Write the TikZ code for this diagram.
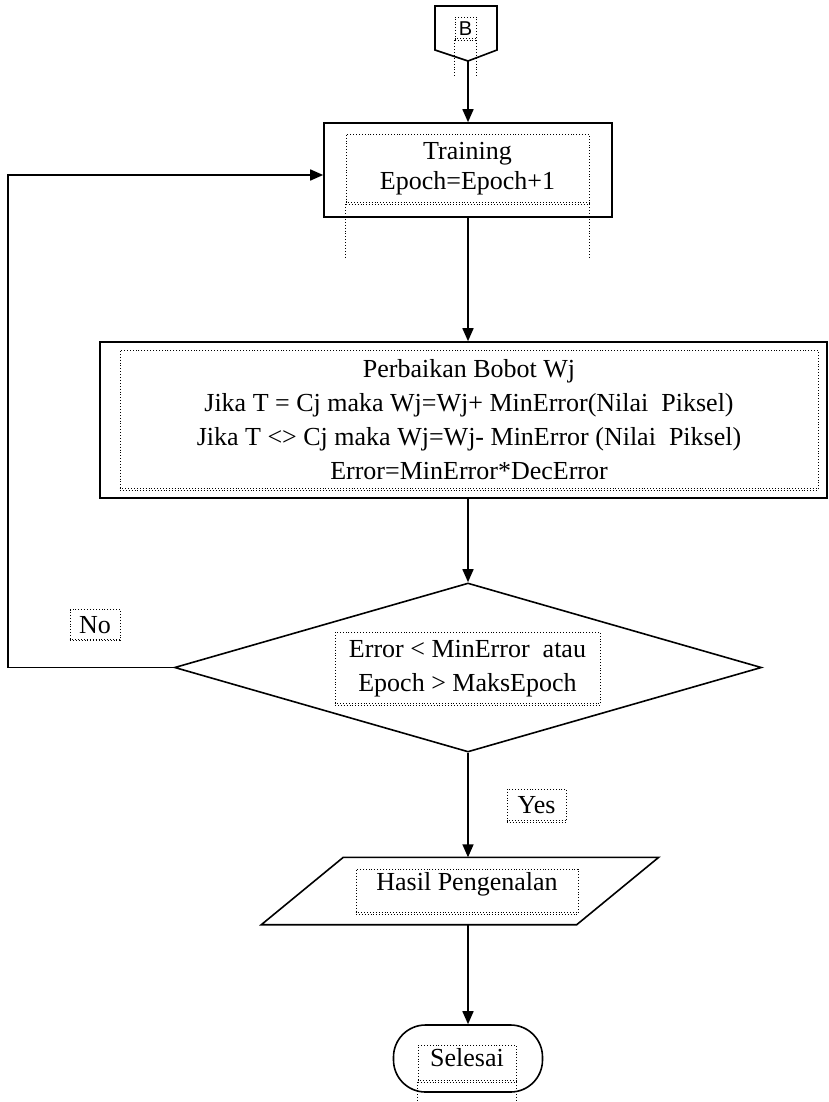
\documentclass[tikz,border=0pt]{standalone}
\usepackage{fontspec}
\setmainfont{Liberation Serif}
\newfontfamily\labelsans{Liberation Sans}
\usetikzlibrary{shapes.geometric,arrows.meta,calc}

\tikzset{
  frame/.style={draw, line width=1.6pt, line join=miter},
  dotbox/.style={draw, dotted, line width=0.9pt, inner sep=0pt, align=center},
  dotline/.style={dotted, line width=0.9pt},
  flow/.style={line width=1.6pt, -{Triangle[length=13pt,width=11pt]}},
  txt/.style={font=\fontsize{26}{34}\selectfont, align=center, inner sep=0pt},
}

\begin{document}
\begin{tikzpicture}[x=1pt,y=-1pt]
\useasboundingbox (0,0) rectangle (829,1102);

% off-page connector B
\draw[frame] (435,6) -- (497,6) -- (497,50) -- (468,61) -- (435,50) -- cycle;
\coordinate (bTip) at (468,61);
\node[dotbox, minimum width=21pt, minimum height=23pt,
      font=\labelsans\fontsize{20}{20}\selectfont] (bLbl) at (465.5,28.5) {B};
\draw[dotline] (bLbl.south west) -- ++(0,35);
\draw[dotline] (bLbl.south east) -- ++(0,35);

% training step
\node[frame, minimum width=288pt, minimum height=94pt] (train) at (468,170) {};
\node[dotbox, txt, font=\fontsize{26}{30}\selectfont,
      minimum width=243pt, minimum height=70pt] (trainTxt) at (467.5,169)
      {Training\\Epoch=Epoch+1};
\draw[dotline] (trainTxt.south west) -- ++(0,54);
\draw[dotline] (trainTxt.south east) -- ++(0,54);

% weight update
\node[frame, minimum width=727pt, minimum height=156pt] (fix) at (463.5,420) {};
\node[dotbox, txt, minimum width=698pt, minimum height=140pt] (fixTxt) at (469,420)
      {Perbaikan Bobot Wj\\
       Jika T = Cj maka Wj=Wj+ MinError(Nilai\ \ Piksel)\\
       Jika T <> Cj maka Wj=Wj- MinError (Nilai\ \ Piksel)\\
       Error=MinError*DecError};

% stopping condition
\node[frame, diamond, minimum width=587pt, minimum height=169pt, inner sep=0pt]
      (dec) at (468,667.5) {};
\node[dotbox, txt, minimum width=265pt, minimum height=73pt] (decTxt) at (467.5,668.5)
      {Error < MinError\ \ atau\\Epoch > MaksEpoch};

% output
\node[minimum width=315pt, minimum height=67pt, inner sep=0pt] (io) at (460,891) {};
\draw[frame] ($(io.north west)+(41,0)$) -- ($(io.north east)+(41,0)$)
  -- ($(io.south east)+(-41,0)$) -- ($(io.south west)+(-41,0)$) -- cycle;
\node[dotbox, minimum width=222pt, minimum height=45pt] (outDot) at (467,891.5) {};
\node[txt] (outTxt) at (467,884) {Hasil Pengenalan};

% terminator
\node[frame, rounded corners=32pt, minimum width=149pt, minimum height=67pt]
      (end) at (468,1058.5) {};
\node[dotbox, minimum width=98pt, minimum height=37pt] (endDot) at (467,1063.5) {};
\node[txt] (endTxt) at (467,1058) {Selesai};
\draw[dotline] (endDot.south west) -- ++(0,22);
\draw[dotline] (endDot.south east) -- ++(0,22);

% branch labels
\node[dotbox, txt, minimum width=50pt, minimum height=31pt] (noLbl) at (95,625) {No};
\node[dotbox, txt, minimum width=59pt, minimum height=33pt] (yesLbl) at (536.5,805.5) {Yes};

% doubled lower edges of the text frames
\foreach \n in {bLbl,trainTxt,fixTxt,decTxt,noLbl,yesLbl,outDot,endDot}
  \draw[dotline] ([yshift=2pt]\n.south west) -- ([yshift=2pt]\n.south east);

% connectors
\coordinate (loopx) at (8,0);
\draw[flow] (bTip) -- (train.north);
\draw[flow] (train.south) -- (train.south |- fix.north);
\draw[flow] (fix.south -| dec.north) -- (dec.north);
\draw[flow] (dec.west) -- (dec.west -| loopx) |- ([yshift=-5pt]train.west);
\draw[flow] (dec.south) -- (dec.south |- io.north);
\draw[flow] (io.south -| dec.south) -- (end.north);
\end{tikzpicture}
\end{document}
